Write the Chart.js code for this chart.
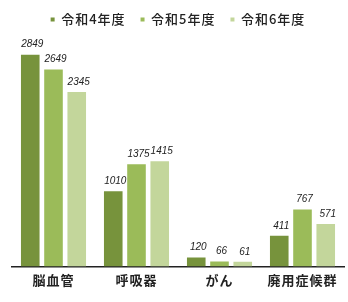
<!DOCTYPE html>
<html lang="ja">
<head>
  <meta charset="UTF-8" />
  <title>疾患別件数</title>
  <script src="https://cdn.jsdelivr.net/npm/chart.js"></script>
  <style>
    body { margin: 0; background: #fff; }
    #wrap { width: 348px; height: 302px; }
  </style>
</head>
<body>
  <div id="wrap"><canvas id="chart"></canvas></div>

  <script>
    const categories = ['脳血管', '呼吸器', 'がん', '廃用症候群'];
    const seriesNames = ['令和4年度', '令和5年度', '令和6年度'];
    const r4 = [2849, 1010, 120, 411];
    const r5 = [2649, 1375, 66, 767];
    const r6 = [2345, 1415, 61, 571];
    const colors = ['#77933c', '#9bbb59', '#c3d69b'];

    const font = '"Noto Sans CJK JP", "Noto Sans", sans-serif';

    // a little tracking for the japanese text, like the original
    const spacing = {
      id: 'spacing',
      beforeInit(chart) { chart.ctx.letterSpacing = '1px'; },
      beforeUpdate(chart) { chart.ctx.letterSpacing = '1px'; }
    };

    // values above the bars
    const valueLabels = {
      id: 'valueLabels',
      afterDatasetsDraw(chart) {
        const ctx = chart.ctx;
        ctx.save();
        ctx.letterSpacing = '0px';
        ctx.font = 'italic 10px "Liberation Sans", Arial, sans-serif';
        ctx.fillStyle = '#222';
        ctx.textAlign = 'center';
        ctx.textBaseline = 'bottom';
        chart.data.datasets.forEach((ds, i) => {
          chart.getDatasetMeta(i).data.forEach((bar, j) => {
            ctx.fillText(ds.data[j], bar.x + 2, bar.y - 5);
          });
        });
        ctx.restore();
        ctx.letterSpacing = '1px';
      }
    };

    new Chart(document.getElementById('chart'), {
      type: 'bar',
      data: {
        labels: categories,
        datasets: [
          { label: seriesNames[0], data: r4, backgroundColor: colors[0] },
          { label: seriesNames[1], data: r5, backgroundColor: colors[1] },
          { label: seriesNames[2], data: r6, backgroundColor: colors[2] }
        ]
      },
      options: {
        responsive: true,
        maintainAspectRatio: false,
        animation: false,
        layout: { padding: { left: 12, right: 4, top: -2, bottom: 8 } },
        datasets: {
          bar: { categoryPercentage: 0.84, barPercentage: 0.8 }
        },
        plugins: {
          legend: {
            position: 'top',
            labels: {
              boxWidth: 4,
              boxHeight: 4,
              color: '#222',
              padding: 15,
              font: { family: font, size: 13, weight: '500' }
            }
          },
          tooltip: { enabled: false }
        },
        scales: {
          x: {
            grid: { display: false, drawTicks: false },
            border: { color: '#222', width: 1.5 },
            ticks: { color: '#222', padding: 6, font: { family: font, size: 13, weight: 'bold' } }
          },
          y: {
            display: false,
            min: 0,
            max: 3100
          }
        }
      },
      plugins: [spacing, valueLabels]
    });
  </script>
</body>
</html>
